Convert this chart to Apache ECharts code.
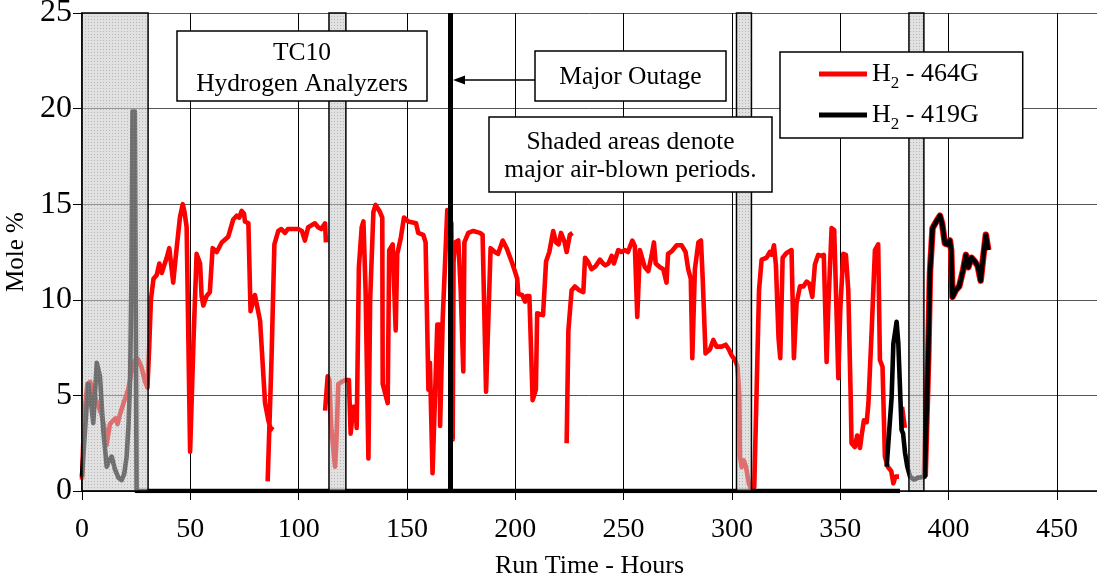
<!DOCTYPE html>
<html><head><meta charset="utf-8">
<script src="https://cdn.jsdelivr.net/npm/echarts@6/dist/echarts.min.js"></script>
<style>html,body{margin:0;padding:0;background:#fff}#c{width:1097px;height:580px}</style>
</head><body><div id="c"></div>
<script>
// ---- data ----
const h464Hours = [0,0.6,1.6,2.5,3.8,5.2,7,9,10.5,11.3,12,12.9,14.5,15.5,16.4,17.5,19.2,21.3,22.8,24.3,25.8,27.4,28.9,30.2,31,31.8,33,34.5,35.7,36.8,38.2,39.1,40.3,42.1,43.4,45.2,46.5,47.3,48.3,49.9,51.5,52.9,54.5,55.2,56,57.5,59,60.3,62.2,64.5,67.5,69.8,71.4,72.6,73.7,74.8,75.2,76.8,77.8,79.8,82.2,84.5,86,87,88.3,88.3,
  85.7,87.5,88.8,90.6,92,93.7,95,99.8,101.5,102.9,104.4,107.5,109,110.5,112.2,112.6,112.6,
  112.2,113.4,114.2,115,116.8,117.4,118.3,119.8,121.4,123.2,124,124.8,125.2,126.3,126.8,127.8,129.1,129.9,130.9,132.2,133,134.5,135.5,137.5,138.6,138.8,141.1,141.8,143.4,144.8,145.5,147.1,148.6,150.6,154.2,155.2,156,157.5,158.6,159.9,160.6,161.3,161.8,164,165,165.3,166.5,168.6,170.5,171.1,171.5,172.2,173.7,174.8,176,176.5,178.3,180.6,183.7,184.9,186.5,188.6,190.6,192,194.2,196,198.3,199.5,200.9,201.4,203.2,204.5,205.2,206.5,208,209.5,210.1,212.8,214.2,215.7,217.5,218.8,220,221.1,222,222.8,223.7,225.2,226.4,226.4,
  223.7,224.5,226,227.5,229.5,231.4,232.2,233.5,235.2,237,239.1,240.5,241.5,243,244.5,245.5,247.5,249,250.6,252,254,255.2,256.3,257.5,258.3,259.8,261.4,262.9,264,264.8,266.8,268.3,269.8,270.5,272.3,274.5,276.8,278.6,279.8,281,281.7,282.9,284.5,285.7,286.5,287.8,289.8,291.4,292.9,295.2,297.1,298.6,299.8,301.4,302.6,303.4,303.7,304.5,305.5,306.5,307.8,309,310.3,311.4,312.5,313.7,316,317.5,318.3,319.4,320.3,321.5,322.3,323.4,325.2,327.5,328.6,329.8,331.4,333,334.5,335.7,337.1,338.3,339.8,341.3,342.4,343.7,344.5,346,347.2,348,349.1,350,351.4,352.6,353.7,354.8,355.2,356.7,357.8,359.1,359.8,360.9,362.2,363,364.5,366,367.5,368.3,369.5,370.6,372,373.5,374.5,375.5,377.1,377.1,
  378.5,379.3,379.8];
const h464Mole = [0.6,2.6,4.6,5.6,5.7,5.2,4.6,4.0,3.2,2.4,2.5,3.5,3.7,3.8,3.5,4.0,4.6,5.3,6.2,6.8,6.9,6.5,5.8,5.4,7.5,10,11.1,11.3,11.9,11.4,11.9,12.2,12.7,10.9,12.4,14.3,15.0,14.6,13.8,2.05,8,12.4,11.9,10.2,9.7,10.2,10.4,12.7,12.5,13.0,13.3,14.2,14.4,14.3,14.65,14.5,14.1,14.0,9.4,10.25,8.9,4.6,3.7,3.3,3.2,null,
  0.5,7,12.9,13.6,13.7,13.5,13.7,13.7,13.6,13.1,13.8,14.0,13.8,13.7,14.0,13.0,null,
  4.2,6.0,5.8,3.4,1.27,2.5,5.6,5.7,5.8,5.8,3.0,2.95,4.4,4.4,3.3,11.7,13.8,14.1,10.5,1.7,10,14.6,14.96,14.6,14.3,5.6,4.6,12.6,12.9,8.4,12.4,13.2,14.3,14.1,14.0,13.5,13.4,13.4,13.0,5.3,6.7,6.6,0.93,8.7,8.7,3.4,9,14.7,14,2.7,12,13.0,13.1,10.5,6.25,13.0,13.5,13.6,13.5,13.4,5.2,12.7,12.5,12.4,13.1,12.7,12.0,11.6,11.1,10.3,10.25,9.9,10.2,10.2,4.75,5.3,9.3,9.2,12.0,12.5,13.6,13.0,12.9,13.5,13.4,13.0,12.5,13.4,13.5,null,
  2.5,8.4,10.5,10.7,10.5,10.4,12.2,12.0,11.6,11.75,12.1,11.9,11.8,11.9,12.3,11.9,12.6,12.5,12.6,12.5,13.1,12.8,9.1,12.6,12.7,11.7,11.5,12.3,13.0,11.9,11.7,11.6,10.9,12.4,12.55,12.85,12.85,12.5,11.6,11.1,6.95,11.6,13.0,13.1,11.1,7.2,7.4,7.9,7.55,7.55,7.65,7.4,7.1,6.85,6.5,5.0,1.8,1.25,1.6,1.25,0.4,0.05,0.2,5.3,10.5,12.1,12.2,12.5,12.35,12.85,11.8,8,6.95,12.2,12.45,12.6,6.95,9.8,10.7,10.7,10.95,10.85,10.15,11.85,12.35,12.3,12.35,6.75,9.7,13.75,13.65,10.5,5.9,9.5,12.4,12.35,10.5,4.95,2.5,2.3,2.9,2.25,2.85,3.7,3.6,4.6,8.4,12.6,12.9,6.85,6.5,1.8,1.25,1.05,0.4,0.75,0.75,null,
  4.4,4.4,3.3];

const h419Hours = [0,1.4,2.9,4,5.2,6.8,8.3,9.8,11.4,12.5,13.7,15.3,16.8,18.3,19.5,20.6,21.5,22.2,22.8,23.3,24.4,25.2,377.6,377.6,
  371.4,373.7,374.5,376,376.8,378.3,379,379.9,380.9,382.2,384,386,389,390.6,391.4,392.6,394.9,396,397,398.3,399.4,400.6,401.2,401.8,403.3,404.9,406.7,408,409.1,410.6,412.2,413.5,414.8,416,417.2,418.3];
const h419Mole = [0.75,3.2,5.6,4.8,3.55,6.7,6.0,3.2,1.27,1.6,1.8,1.1,0.7,0.57,0.9,1.8,3.5,5.8,11,19.85,19.85,0,0,null,
  1.27,4.9,7.7,8.85,7.7,3.2,3.0,2.0,1.3,0.75,0.6,0.7,0.75,7.0,11.4,13.75,14.2,14.4,14.0,12.95,12.9,13.1,12.6,10.15,10.5,10.7,11.55,12.35,11.7,12.2,12.0,11.75,11.0,12.25,13.4,12.6];

// red trace lying under the black one after the last air-blown period
const h464TailHours = [389,390.6,391.4,392.6,394.9,396,397,398.3,399.4,400.6,401.2,401.8,403.3,404.9,406.7,408,409.1,410.6,412.2,413.5,414.8,416,417.2,418.3];
const h464TailMole = [0.75,7.0,11.4,13.75,14.2,14.4,14.0,12.95,12.9,13.1,12.6,10.15,10.5,10.7,11.55,12.35,11.7,12.2,12.0,11.75,11.0,12.25,13.4,12.6];

const airBlownStart = [0, 114, 302.1, 381.7];
const airBlownEnd = [30.5, 121.8, 309, 388.6];
const outageHour = 170;
const seriesNames = ['H₂ - 464G', 'H₂ - 419G'];

// ---- chart ----
const F = '"Liberation Serif", "Times New Roman", serif';
function pairs(h, m) { return h.map((x, i) => [x, m[i]]); }

const pat = document.createElement('canvas');
pat.width = 3; pat.height = 3;
const pg = pat.getContext('2d');
pg.fillStyle = 'rgba(200,200,200,0.55)'; pg.fillRect(0, 0, 3, 3);
pg.fillStyle = 'rgba(150,150,150,0.55)'; pg.fillRect(1, 1, 1, 1);

const chart = echarts.init(document.getElementById('c'), null, { renderer: 'canvas' });
const lineBase = { type: 'line', showSymbol: false, symbol: 'none', connectNulls: false, silent: true };

chart.setOption({
  animation: false,
  backgroundColor: '#fff',
  grid: { left: 82, top: 13, right: 0, bottom: 89, containLabel: false, outerBoundsMode: 'none' },
  xAxis: {
    type: 'value', min: 0, max: 468.5, interval: 50,
    name: 'Run Time - Hours', nameLocation: 'middle', nameGap: 75,
    nameTextStyle: { fontFamily: F, fontSize: 26, color: '#000', verticalAlign: 'middle' },
    axisLine: { show: true, onZero: false, lineStyle: { color: '#000', width: 1.5 } },
    axisTick: { show: true, length: 9, lineStyle: { color: '#000', width: 1 } },
    axisLabel: { fontFamily: F, fontSize: 28, color: '#000', margin: 25, showMaxLabel: false,
      formatter: v => (v % 50 === 0 ? String(v) : '') },
    splitLine: { show: true, lineStyle: { color: '#000', width: 1 } }
  },
  yAxis: {
    type: 'value', min: 0, max: 25, interval: 5,
    name: 'Mole %', nameLocation: 'middle', nameGap: 59,
    nameTextStyle: { fontFamily: F, fontSize: 25, color: '#000', verticalAlign: 'middle' },
    axisLine: { show: true, lineStyle: { color: '#000', width: 1.5 } },
    axisTick: { show: true, length: 9, lineStyle: { color: '#000', width: 1 } },
    axisLabel: { fontFamily: F, fontSize: 32, color: '#000', margin: 10 },
    splitLine: { show: true, lineStyle: { color: '#555', width: 1 } }
  },
  legend: {
    data: seriesNames, orient: 'vertical', left: 780, top: 52,
    padding: [9, 44, 5, 39], itemGap: 10, itemWidth: 48, itemHeight: 5, icon: 'rect',
    backgroundColor: '#fff', borderColor: '#000', borderWidth: 1.5, borderRadius: 0,
    selectedMode: false, z: 20,
    formatter: name => '{n|H}{s|2}{n|' + name.slice(2) + '}',
    textStyle: { rich: {
      n: { fontFamily: F, fontSize: 26, color: '#000', lineHeight: 36 },
      s: { fontFamily: F, fontSize: 17, color: '#000', lineHeight: 14, verticalAlign: 'bottom' }
    } }
  },
  series: [
    Object.assign({}, lineBase, { name: seriesNames[0], z: 2, data: pairs(h464Hours, h464Mole),
      itemStyle: { color: '#ff0000' }, lineStyle: { color: '#ff0000', width: 4.6, join: 'round' } }),
    Object.assign({}, lineBase, { name: seriesNames[0], z: 2, data: pairs(h464TailHours, h464TailMole),
      itemStyle: { color: '#ff0000' }, lineStyle: { color: '#ff0000', width: 6.5, join: 'round' } }),
    Object.assign({}, lineBase, { name: seriesNames[1], z: 3, data: pairs(h419Hours, h419Mole),
      itemStyle: { color: '#000' }, lineStyle: { color: '#000', width: 4.6, join: 'round' } }),
    Object.assign({}, lineBase, { name: 'overlay', z: 6, data: [],
      markArea: { silent: true, z: 6,
        itemStyle: { color: { image: pat, repeat: 'repeat' }, borderColor: '#000', borderWidth: 1.5 },
        data: airBlownStart.map((s, i) => [{ xAxis: s }, { xAxis: airBlownEnd[i] }]) },
      markLine: { silent: true, z: 8, symbol: 'none', label: { show: false },
        lineStyle: { color: '#000', width: 5, type: 'solid' },
        data: [{ xAxis: outageHour }] } })
  ],
  graphic: [
    { type: 'rect', z: 30, shape: { x: 177, y: 31, width: 250, height: 70 },
      style: { fill: '#fff', stroke: '#000', lineWidth: 1.5 } },
    { type: 'text', z: 31, x: 302, y: 53, style: { text: 'TC10', font: '25.5px "Liberation Serif"', fill: '#000', align: 'center', verticalAlign: 'middle' } },
    { type: 'text', z: 31, x: 302, y: 84, style: { text: 'Hydrogen Analyzers', font: '25.5px "Liberation Serif"', fill: '#000', align: 'center', verticalAlign: 'middle' } },
    { type: 'rect', z: 30, shape: { x: 535, y: 51, width: 191, height: 50 },
      style: { fill: '#fff', stroke: '#000', lineWidth: 1.5 } },
    { type: 'text', z: 31, x: 630.5, y: 77, style: { text: 'Major Outage', font: '25.5px "Liberation Serif"', fill: '#000', align: 'center', verticalAlign: 'middle' } },
    { type: 'line', z: 30, shape: { x1: 535, y1: 80, x2: 460, y2: 80 }, style: { stroke: '#000', lineWidth: 1.5 } },
    { type: 'polygon', z: 30, shape: { points: [[453, 80], [465, 75.5], [465, 84.5]] }, style: { fill: '#000' } },
    { type: 'rect', z: 30, shape: { x: 489, y: 117, width: 283, height: 75 },
      style: { fill: '#fff', stroke: '#000', lineWidth: 1.5 } },
    { type: 'text', z: 31, x: 630.5, y: 142, style: { text: 'Shaded areas denote', font: '25.5px "Liberation Serif"', fill: '#000', align: 'center', verticalAlign: 'middle' } },
    { type: 'text', z: 31, x: 630.5, y: 170, style: { text: 'major air-blown periods.', font: '25.5px "Liberation Serif"', fill: '#000', align: 'center', verticalAlign: 'middle' } }
  ]
});
</script></body></html>
